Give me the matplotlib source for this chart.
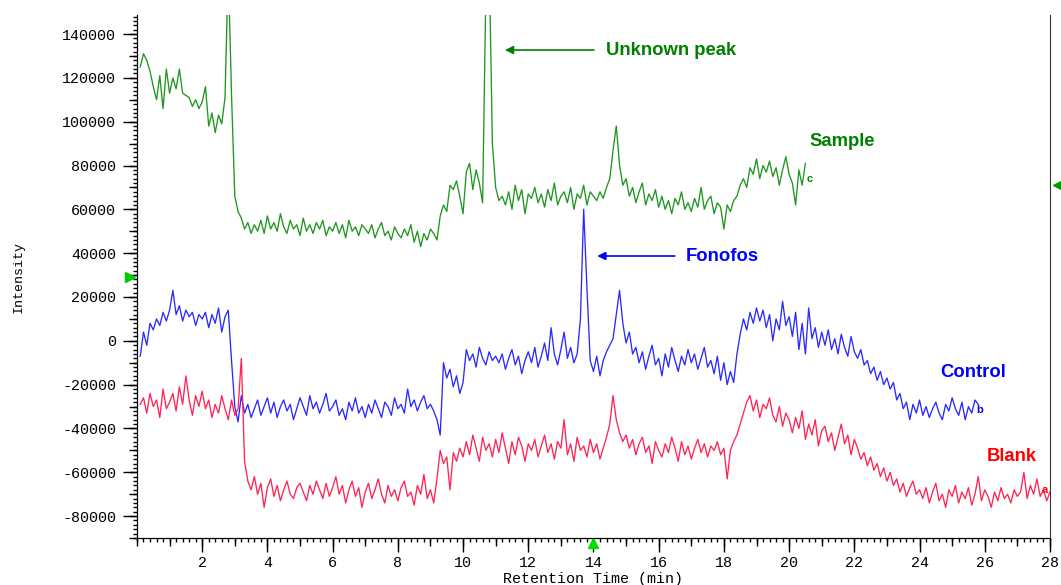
import numpy as np
import matplotlib.pyplot as plt
from matplotlib.ticker import MultipleLocator, FuncFormatter, NullLocator

plt.rcParams['axes.unicode_minus'] = False

# intensity in thousands, one reading every 0.1 min starting at 0.1 min
sample_k = [
    125, 131, 128, 123, 116, 110, 121, 106, 124, 113,
    120, 115, 124, 113, 112, 111, 107, 110, 106, 109,
    116, 98, 104, 95, 103, 99, 111, 170, 112, 66,
    59, 56, 51, 54, 49, 53, 50, 55, 49, 57,
    51, 54, 50, 58, 52, 49, 55, 51, 53, 48,
    56, 50, 53, 49, 54, 51, 55, 48, 52, 50,
    54, 49, 53, 47, 55, 50, 52, 48, 53, 51,
    49, 53, 47, 51, 54, 48, 50, 46, 52, 49,
    47, 51, 48, 53, 45, 50, 43, 49, 46, 51,
    49, 46, 57, 62, 59, 71, 69, 73, 66, 58,
    77, 81, 69, 78, 72, 63, 160, 175, 90, 70,
    64, 66, 62, 68, 60, 71, 64, 69, 58, 67,
    65, 70, 63, 67, 61, 69, 64, 72, 62, 66,
    68, 63, 70, 60, 67, 65, 71, 62, 68, 66,
    64, 68, 65, 70, 74, 87, 98, 80, 71, 74,
    66, 70, 63, 68, 72, 62, 67, 64, 69, 61,
    66, 60, 64, 58, 65, 62, 68, 60, 63, 59,
    65, 61, 70, 60, 64, 66, 58, 63, 61, 51,
    62, 59, 64, 66, 71, 74, 70, 79, 76, 83,
    74, 80, 77, 82, 75, 79, 71, 78, 84, 76,
    72, 62, 78, 71, 81,
]

control_k = [
    -7, 4, -2, 8, 5, 10, 7, 13, 9, 14,
    23, 12, 16, 9, 14, 11, 13, 7, 12, 10,
    13, 6, 12, 8, 15, 4, 11, 14, -9, -30,
    -37, -25, -33, -29, -35, -31, -27, -34, -30, -26,
    -33, -28, -35, -30, -27, -32, -29, -36, -31, -26,
    -30, -34, -25, -31, -28, -33, -29, -24, -32, -30,
    -27, -34, -31, -36, -28, -32, -26, -33, -30, -35,
    -29, -33, -27, -31, -35, -28, -30, -34, -26, -31,
    -29, -33, -22, -30, -27, -32, -28, -25, -31, -29,
    -32, -36, -43, -10, -17, -13, -21, -16, -24, -19,
    -4, -9, -6, -12, -3, -8, -11, -5, -9, -7,
    -10, -6, -13, -8, -4, -11, -7, -15, -9, -5,
    -10, -3, -12, -7, -1, -9, 6, -6, -11, -4,
    4, -8, -3, -10, -6, 10, 60, 24, -9, -14,
    -7, -16, -9, -5, -2, 1, 12, 23, 8, -1,
    4, -6, -3, -10, -5, -13, -7, -2, -11, -8,
    -16, -6, -12, -3, -9, -14, -7, -11, -4, -10,
    -6, -13, -8, -3, -12, -9, -15, -7, -18, -10,
    -20, -14, -19, -6, 3, 10, 5, 13, 8, 15,
    9, 14, 6, 12, 0, 10, 5, 18, 7, 11,
    2, 13, -4, 8, -6, 15, 1, 6, -3, 4,
    -2, 5, -4, 1, -6, 3, -3, -7, 2, -5,
    -8, -4, -11, -9, -15, -12, -18, -14, -20, -17,
    -22, -19, -27, -24, -31, -28, -36, -29, -33, -27,
    -34, -30, -35, -31, -28, -33, -36, -29, -32, -26,
    -31, -34, -28, -36, -30, -33, -27, -29,
]

blank_k = [
    -29, -26, -33, -24, -30, -27, -35, -22, -31, -28,
    -24, -32, -21, -29, -16, -27, -34, -25, -30, -23,
    -31, -27, -35, -29, -33, -25, -31, -36, -27, -34,
    -31, -8, -55, -64, -68, -62, -70, -65, -76, -67,
    -63, -71, -66, -73, -68, -64, -70, -72, -67, -65,
    -69, -73, -66, -70, -64, -68, -72, -65, -71, -67,
    -62, -70, -66, -74, -68, -64, -71, -67, -76, -69,
    -65, -72, -68, -63, -70, -74, -66, -71, -68, -73,
    -67, -64, -71, -69, -75, -66, -70, -61, -72, -68,
    -74, -63, -50, -56, -53, -68, -51, -55, -49, -53,
    -46, -52, -43, -49, -55, -44, -50, -47, -53, -45,
    -51, -42, -49, -56, -46, -52, -44, -48, -55, -47,
    -50, -45, -53, -48, -43, -51, -47, -54, -46, -49,
    -36, -52, -47, -55, -44, -50, -48, -53, -45, -51,
    -47, -54, -49, -44, -38, -25, -36, -42, -46, -43,
    -49, -45, -52, -47, -44, -51, -48, -56, -46, -50,
    -53, -47, -51, -44, -49, -55, -46, -52, -48, -54,
    -49, -45, -51, -47, -53, -48, -50, -46, -52, -49,
    -63, -50, -46, -43, -38, -33, -28, -25, -32, -27,
    -35, -29, -31, -26, -34, -37, -30, -39, -33, -36,
    -42, -35, -40, -32, -45, -38, -43, -36, -48, -41,
    -39, -46, -42, -50, -44, -38, -47, -43, -52, -45,
    -49, -54, -51, -57, -53, -59, -56, -62, -58, -64,
    -60, -66, -63, -69, -65, -71, -67, -64, -70, -68,
    -72, -67, -74, -69, -65, -73, -70, -76, -68, -71,
    -66, -74, -69, -72, -67, -75, -70, -62, -73, -68,
    -71, -76, -69, -73, -67, -72, -70, -74, -68, -71,
    -69, -60, -72, -66, -70, -63, -71, -68, -73, -69,
]

step = 0.1
GREEN, BLUE, RED = '#1f961f', '#2a2aff', '#ff2454'

fig = plt.figure(figsize=(10.61, 5.85), dpi=100)
ax = fig.add_axes([0.1291, 0.0803, 0.8605, 0.8941])

for vals, col in [(sample_k, GREEN), (control_k, BLUE), (blank_k, RED)]:
    t = step * np.arange(1, len(vals) + 1)
    ax.plot(t, np.array(vals) * 1000, color=col, lw=0.95)

ax.set_xlim(0, 28)
ax.set_ylim(-90000, 148700)

mono = 'Liberation Mono'
ax.xaxis.set_minor_locator(MultipleLocator(0.2))
ax.set_xticks(np.arange(2, 29, 2))
ax.yaxis.set_minor_locator(MultipleLocator(2000))
ax.set_yticks(np.arange(-80000, 140001, 20000))
ax.yaxis.set_major_formatter(FuncFormatter(lambda v, p: '%d' % v))
ax.tick_params(which='major', length=10, width=1, pad=5, labelsize=10.8)
ax.tick_params(axis='x', which='major', pad=3)
ax.tick_params(which='minor', length=3, width=1)
for lab in ax.get_xticklabels() + ax.get_yticklabels():
    lab.set_fontfamily(mono)

# medium ticks every 1 min / 10000
secx = ax.secondary_xaxis('bottom')
secx.set_xticks(np.arange(0, 29, 1))
secx.xaxis.set_minor_locator(NullLocator())
secx.tick_params(length=6, width=1, labelbottom=False)
secy = ax.secondary_yaxis('left')
secy.set_yticks(np.arange(-90000, 148001, 10000))
secy.yaxis.set_minor_locator(NullLocator())
secy.tick_params(length=6, width=1, labelleft=False)

ax.spines['top'].set_visible(False)
ax.spines['right'].set_color('#333333')
ax.set_xlabel('Retention Time (min)', fontfamily=mono, fontsize=10.8, va='center')
ax.xaxis.set_label_coords(0.5, -0.078)
ax.set_ylabel('Intensity', fontfamily=mono, fontsize=9.5, labelpad=27)

bold = dict(fontfamily='Liberation Sans', fontweight='bold', fontsize=13.3, va='center')
ax.annotate('', xy=(11.2, 132700), xytext=(14.1, 132700),
            arrowprops=dict(arrowstyle='-|>', color='#008000', lw=1.2, mutation_scale=12))
ax.text(14.38, 132700, 'Unknown peak', color='#008000', **bold)
ax.annotate('', xy=(14.03, 38700), xytext=(16.58, 38700),
            arrowprops=dict(arrowstyle='-|>', color='#0000ff', lw=1.2, mutation_scale=12))
ax.text(16.83, 38700, 'Fonofos', color='#0000ff', **bold)
ax.text(20.63, 91000, 'Sample', color='#008000', **bold)
ax.text(24.62, -14300, 'Control', color='#0000ff', **bold)
ax.text(26.06, -53000, 'Blank', color='#ff0000', **bold)

small = dict(fontfamily='Liberation Sans', fontweight='bold', fontsize=8, va='center')
ax.text(20.55, 74000, 'c', color='#008000', **small)
ax.text(25.75, -31500, 'b', color='#0000ff', **small)
ax.text(27.75, -68000, 'a', color='#ff0000', **small)

ax.plot([-0.2], [29000], marker='>', ms=7, color='#00cc00', clip_on=False)
ax.plot([28.25], [71000], marker='<', ms=7, color='#009900', clip_on=False)
ax.plot([14.0], [-92300], marker='^', ms=7, color='#00dd00', clip_on=False)

fig.savefig('out.png', dpi=100)
